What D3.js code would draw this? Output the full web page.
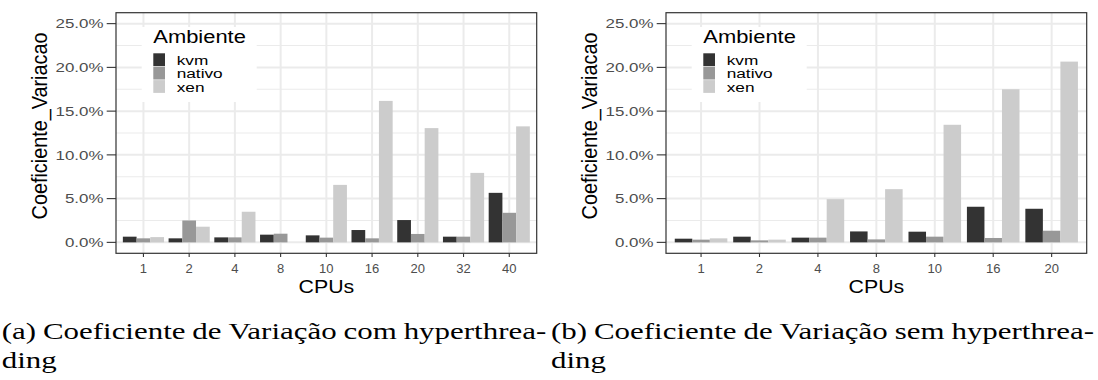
<!DOCTYPE html>
<html lang="pt">
<head>
<meta charset="UTF-8">
<title>Coeficiente de Variação</title>
<script src="https://d3js.org/d3.v7.min.js"></script>
<style>
  body { margin: 0; background: #fff; }
  svg { display: block; }
</style>
</head>
<body>
<svg id="chart" width="1098" height="380"></svg>
<script>
// data (values in %)
const ambientes = ["kvm", "nativo", "xen"];
const cores = ["#333333", "#989898", "#CCCCCC"];
const yTicks = [0, 5, 10, 15, 20, 25];

const cpusHT = ["1", "2", "4", "8", "10", "16", "20", "32", "40"];
const kvmHT = [0.65, 0.46, 0.57, 0.88, 0.80, 1.41, 2.55, 0.65, 5.66];
const nativoHT = [0.46, 2.50, 0.57, 0.99, 0.54, 0.46, 0.96, 0.65, 3.38];
const xenHT = [0.60, 1.79, 3.50, null, 6.57, 16.17, 13.06, 7.94, 13.26];

const cpusNoHT = ["1", "2", "4", "8", "10", "16", "20"];
const kvmNoHT = [0.42, 0.65, 0.54, 1.25, 1.22, 4.07, 3.84];
const nativoNoHT = [0.31, 0.23, 0.54, 0.34, 0.65, 0.50, 1.33];
const xenNoHT = [0.46, 0.31, 4.94, 6.08, 13.44, 17.50, 20.66];

const captionA = "(a) Coeficiente de Variação com hyperthrea-";
const captionB = "(b) Coeficiente de Variação sem hyperthrea-";

const svg = d3.select("#chart");
const sans = "'Liberation Sans', Arial, sans-serif";
const serif = "'Liberation Serif', 'Times New Roman', serif";

// the picture is stretched sideways: work out a horizontal scale from
// how wide a sample string is in the reference
function fitScale(sample, size, family, target) {
  const t = svg.append("text").style("font-family", family)
    .style("font-size", size + "px").text(sample);
  const w = t.node().getComputedTextLength();
  t.remove();
  return target / w;
}

function stext(g, x, y, str, size, sx, opts) {
  opts = opts || {};
  return g.append("text")
    .attr("transform", `translate(${x},${y}) scale(${sx},1)`)
    .attr("text-anchor", opts.anchor || "start")
    .attr("fill", opts.fill || "#000")
    .style("font-family", opts.family || sans)
    .style("font-size", size + "px")
    .text(str);
}

const sxY = fitScale("25.0%", 13, sans, 48);
const sxX = fitScale("10", 12, sans, 14.5);
const sxTitle = fitScale("CPUs", 17.5, sans, 55.7);
const sxLegT = fitScale("Ambiente", 18, sans, 92.7);
const sxLeg = fitScale("nativo", 13.5, sans, 46);
const alongY = fitScale("Coeficiente_Variacao", 17.5, sans, 187);
const sxCap = fitScale("ding", 23.5, serif, 55);

function drawPanel(offsetX, cats, series) {
  const left = offsetX + 116, right = offsetX + 536.7, top = 12.7, bottom = 253.3;
  const g = svg.append("g");

  const x = d3.scalePoint().domain(cats).range([left, right]).padding(0.6);
  const y = d3.scaleLinear().domain([-1.25, 26.25]).range([bottom, top]);
  const step = x.step();
  const bw = step * 0.3;

  g.append("rect").attr("x", left).attr("y", top)
    .attr("width", right - left).attr("height", bottom - top).attr("fill", "#fff");

  // grid
  const minor = yTicks.slice(0, -1).map(d => d + 2.5);
  g.selectAll(".gmin").data(minor).join("line")
    .attr("x1", left).attr("x2", right)
    .attr("y1", d => y(d)).attr("y2", d => y(d))
    .attr("stroke", "#EBEBEB").attr("stroke-width", 1.1);
  g.selectAll(".gmaj").data(yTicks).join("line")
    .attr("x1", left).attr("x2", right)
    .attr("y1", d => y(d)).attr("y2", d => y(d))
    .attr("stroke", "#EBEBEB").attr("stroke-width", 2);
  g.selectAll(".gx").data(cats).join("line")
    .attr("x1", d => x(d)).attr("x2", d => x(d))
    .attr("y1", top).attr("y2", bottom)
    .attr("stroke", "#EBEBEB").attr("stroke-width", 2);

  // bars
  series.forEach((vals, i) => {
    const pts = cats.map((c, j) => ({ c: c, v: vals[j] })).filter(d => d.v != null);
    g.selectAll(".bar" + i).data(pts).join("rect")
      .attr("x", d => x(d.c) - 1.5 * bw + i * bw)
      .attr("width", bw)
      .attr("y", d => y(d.v))
      .attr("height", d => y(0) - y(d.v))
      .attr("fill", cores[i]);
  });

  // legend
  const lg = g.append("g");
  lg.append("rect").attr("x", offsetX + 141.7).attr("y", 27)
    .attr("width", 115).attr("height", 75).attr("fill", "#fff");
  stext(lg, offsetX + 153.3, 42.7, "Ambiente", 18, sxLegT);
  ambientes.forEach((a, i) => {
    lg.append("rect")
      .attr("x", offsetX + 153.3).attr("y", 53.3 + i * 13.4)
      .attr("width", 11.7).attr("height", 12.8)
      .attr("fill", cores[i]);
    stext(lg, offsetX + 176.7, 65 + i * 13.4, a, 13.5, sxLeg);
  });

  // border
  g.append("rect").attr("x", left).attr("y", top)
    .attr("width", right - left).attr("height", bottom - top)
    .attr("fill", "none").attr("stroke", "#333333").attr("stroke-width", 1.2);

  // y axis
  yTicks.forEach(t => {
    g.append("line").attr("x1", left - 9.3).attr("x2", left)
      .attr("y1", y(t)).attr("y2", y(t))
      .attr("stroke", "#333333").attr("stroke-width", 1.1);
    stext(g, left - 12.5, y(t) + 4.7, d3.format(".1f")(t) + "%", 13, sxY,
      { anchor: "end", fill: "#4D4D4D" });
  });

  // x axis
  cats.forEach(c => {
    g.append("line").attr("x1", x(c)).attr("x2", x(c))
      .attr("y1", bottom).attr("y2", bottom + 3.7)
      .attr("stroke", "#333333").attr("stroke-width", 1.1);
    stext(g, x(c), 272.7, c, 12, sxX, { anchor: "middle", fill: "#4D4D4D" });
  });

  stext(g, (left + right) / 2, 292.7, "CPUs", 17.5, sxTitle, { anchor: "middle" });

  g.append("text")
    .attr("transform", `translate(${offsetX + 46.5},126) rotate(-90) scale(${alongY},1.25)`)
    .attr("text-anchor", "middle")
    .style("font-family", sans)
    .style("font-size", "17.5px")
    .text("Coeficiente_Variacao");
}

// justified caption, as LaTeX sets it
function caption(x0, width, line1, line2) {
  const size = 23.5;
  const g = svg.append("g");
  const words = line1.split(" ");
  const nodes = words.map(w => stext(g, 0, 338.5, w, size, sxCap, { family: serif }));
  const widths = nodes.map(n => n.node().getComputedTextLength() * sxCap);
  const gap = (width - d3.sum(widths)) / (words.length - 1);
  let cx = x0;
  nodes.forEach((n, i) => {
    n.attr("transform", `translate(${cx},338.5) scale(${sxCap},1)`);
    cx += widths[i] + gap;
  });
  stext(g, x0, 368, line2, size, sxCap, { family: serif });
}

drawPanel(0, cpusHT, [kvmHT, nativoHT, xenHT]);
drawPanel(550, cpusNoHT, [kvmNoHT, nativoNoHT, xenNoHT]);
caption(1.7, 544.5, captionA, "ding");
caption(551, 543, captionB, "ding");
</script>
</body>
</html>
